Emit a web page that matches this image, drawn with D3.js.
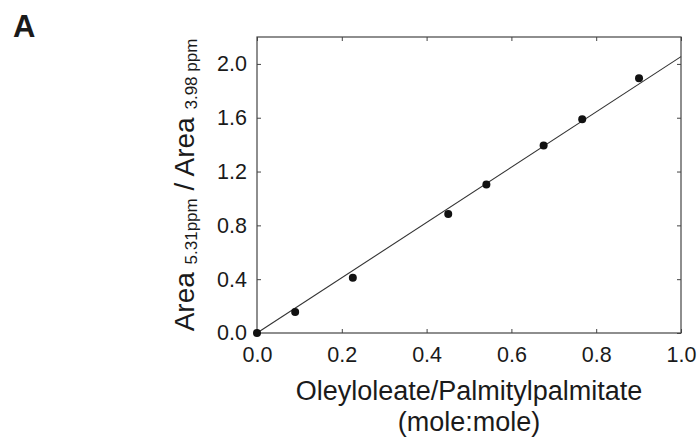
<!DOCTYPE html>
<html>
<head>
<meta charset="utf-8">
<script src="https://cdn.jsdelivr.net/npm/d3@7"></script>
<style>
  body { margin: 0; background: #fff; }
  text { font-family: "Liberation Sans", Arial, sans-serif; fill: #1a1a1a; }
</style>
</head>
<body>
<script>
// measured points
var ratioX = [0.0, 0.090, 0.226, 0.451, 0.541, 0.676, 0.767, 0.901];
var ratioY = [0.0, 0.156, 0.411, 0.884, 1.104, 1.394, 1.589, 1.894];
// regression line end points
var fitX = [0.0, 1.0];
var fitY = [0.0, 2.054];
var xTicks = [0.0, 0.2, 0.4, 0.6, 0.8, 1.0];
var yTicks = [0.0, 0.4, 0.8, 1.2, 1.6, 2.0];
var xTitle = ["Oleyloleate/Palmitylpalmitate", "(mole:mole)"];

var size = ({ width: 698, height: 440 });
var margin = ({ top: 37, right: 17, bottom: 107, left: 257 });
var w = size.width - margin.left - margin.right;
var h = size.height - margin.top - margin.bottom;

var svg = d3.select("body").append("svg")
            .attr("width", size.width)
            .attr("height", size.height);

var g = svg.append("g")
           .attr("transform", "translate(" + margin.left + "," + margin.top + ")");

var x_scale = d3.scaleLinear().domain([0, 1.0]).range([0, w]);
var y_scale = d3.scaleLinear().domain([0, 2.2]).range([h, 0]);

var fmt = d3.format(".1f");

function style_axis(sel, show) {
  sel.select(".domain").remove();
  sel.selectAll(".tick line").attr("stroke", "#444");
  sel.selectAll("text")
     .style("font-size", "21.5px")
     .attr("fill", "#1a1a1a")
     .style("display", show ? null : "none");
}

g.append("g")
 .attr("transform", "translate(0," + h + ")")
 .call(d3.axisBottom(x_scale).tickValues(xTicks).tickFormat(fmt)
        .tickSizeInner(-4).tickSizeOuter(0).tickPadding(14))
 .call(style_axis, true);

g.append("g")
 .call(d3.axisTop(x_scale).tickValues(xTicks).tickSizeInner(-4).tickSizeOuter(0))
 .call(style_axis, false);

g.append("g")
 .call(d3.axisLeft(y_scale).tickValues(yTicks).tickFormat(fmt)
        .tickSizeInner(-4).tickSizeOuter(0).tickPadding(10))
 .call(style_axis, true);

g.append("g")
 .attr("transform", "translate(" + w + ",0)")
 .call(d3.axisRight(y_scale).tickValues(yTicks).tickSizeInner(-4).tickSizeOuter(0))
 .call(style_axis, false);

// frame
g.append("rect")
 .attr("width", w)
 .attr("height", h)
 .attr("fill", "none")
 .attr("stroke", "#444")
 .attr("stroke-width", 1.2);

// fitted line
var line = d3.line()
             .x((d, i) => x_scale(fitX[i]))
             .y((d) => y_scale(d));
g.append("path")
 .datum(fitY)
 .attr("d", line)
 .attr("fill", "none")
 .attr("stroke", "#333")
 .attr("stroke-width", 1.1);

// points
g.selectAll("circle")
 .data(ratioY)
 .enter()
 .append("circle")
 .attr("cx", (d, i) => x_scale(ratioX[i]))
 .attr("cy", (d) => y_scale(d))
 .attr("r", 4)
 .attr("fill", "#111");

// x label, two lines
var xlab = svg.append("text")
              .attr("y", 400)
              .attr("text-anchor", "middle")
              .style("font-size", "27px");
xlab.selectAll("tspan")
    .data(xTitle)
    .enter()
    .append("tspan")
    .attr("x", margin.left + w / 2)
    .attr("dy", (d, i) => i ? 31 : 0)
    .text((d) => d);

// y label
var ylab = svg.append("text")
              .attr("transform", "translate(194," + (margin.top + h / 2) + ") rotate(-90)")
              .attr("text-anchor", "middle")
              .style("font-size", "28px");
ylab.append("tspan").text("Area ");
ylab.append("tspan").attr("dy", 3).style("font-size", "17px").text("5.31ppm");
ylab.append("tspan").attr("dy", -3).text(" / Area ");
ylab.append("tspan").attr("dy", 3).style("font-size", "17px").text("3.98 ppm");

// panel letter
svg.append("text")
   .attr("x", 13)
   .attr("y", 37)
   .style("font-size", "31px")
   .style("font-weight", "bold")
   .attr("fill", "#000")
   .text("A");
</script>
</body>
</html>
